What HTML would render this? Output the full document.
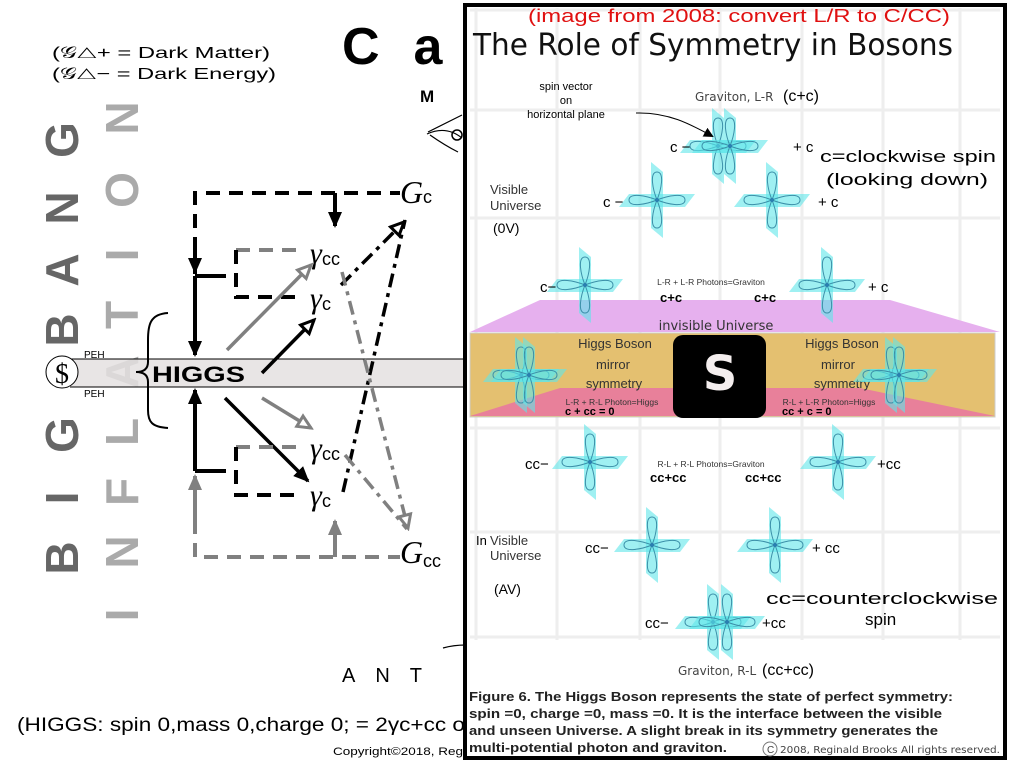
<!DOCTYPE html>
<html><head><meta charset="utf-8"><style>
html,body{margin:0;padding:0;background:#fff;width:1024px;height:768px;overflow:hidden}
svg{display:block}
text{font-family:"Liberation Sans",sans-serif}
</style></head><body>
<svg width="1024" height="768" viewBox="0 0 1024 768" xmlns="http://www.w3.org/2000/svg">
<defs>
<marker id="ab" markerWidth="10" markerHeight="10" refX="8" refY="5" orient="auto" markerUnits="userSpaceOnUse" viewBox="0 0 10 10"><path d="M0,0 L10,5 L0,10 z" fill="#000"/></marker>
<marker id="abig" markerWidth="16" markerHeight="16" refX="14" refY="8" orient="auto" markerUnits="userSpaceOnUse" viewBox="0 0 16 16"><path d="M0,1 L16,8 L0,15 z" fill="#000"/></marker>
<marker id="gbig" markerWidth="16" markerHeight="16" refX="14" refY="8" orient="auto" markerUnits="userSpaceOnUse" viewBox="0 0 16 16"><path d="M0,1 L16,8 L0,15 z" fill="#808080"/></marker>
<marker id="bo" markerWidth="18" markerHeight="18" refX="15" refY="9" orient="auto" markerUnits="userSpaceOnUse" viewBox="0 0 18 18"><path d="M2,3 L15,9 L2,15 z" fill="#fff" stroke="#000" stroke-width="3"/></marker>
<marker id="go" markerWidth="18" markerHeight="18" refX="15" refY="9" orient="auto" markerUnits="userSpaceOnUse" viewBox="0 0 18 18"><path d="M2,3 L15,9 L2,15 z" fill="#fff" stroke="#808080" stroke-width="3"/></marker>
<g id="cr">
<polygon points="-38,7 -28,-6 38,-6 28,7" fill="#5fe6ea" opacity="0.6"/>
<polygon points="-6,-38 6,-28 6,38 -6,28" fill="#5fe6ea" opacity="0.6"/>
<path d="M0,0 C-4,-10 -8,-28 0,-28 C8,-28 4,-10 0,0 M0,0 C10,-4 28,-8 28,0 C28,8 10,4 0,0 M0,0 C4,10 8,28 0,28 C-8,28 -4,10 0,0 M0,0 C-10,4 -28,8 -28,0 C-28,-8 -10,-4 0,0" fill="none" stroke="#3b8fa8" stroke-width="1"/>
<circle r="2" fill="#2a7fb0"/>
</g>
</defs>

<!-- LEFT PANEL -->
<text x="52" y="58" font-size="16" fill="#000" textLength="218" lengthAdjust="spacingAndGlyphs">(𝒢△+ = Dark Matter)</text>
<text x="52" y="79" font-size="16" fill="#000" textLength="224" lengthAdjust="spacingAndGlyphs">(𝒢△− = Dark Energy)</text>
<text x="342" y="64" font-size="52" font-weight="bold" fill="#000" letter-spacing="34">Ca</text>
<text x="420" y="102" font-size="17" font-weight="bold" fill="#000">M</text>
<path d="M428,132 L462,115 M427,134 C440,128 452,130 462,138 M430,135 C440,142 450,148 458,152" fill="none" stroke="#000" stroke-width="1.2"/>
<circle cx="457" cy="135" r="5" fill="none" stroke="#000" stroke-width="1.5"/>

<!-- vertical letters -->
<g font-size="46" font-weight="bold" fill="#666" text-anchor="middle">
<text transform="translate(78,140) rotate(-90)">G</text>
<text transform="translate(78,208) rotate(-90)">N</text>
<text transform="translate(78,270) rotate(-90)">A</text>
<text transform="translate(78,330) rotate(-90)">B</text>
<text transform="translate(78,435) rotate(-90)">G</text>
<text transform="translate(78,498) rotate(-90)">I</text>
<text transform="translate(78,558) rotate(-90)">B</text>
</g>
<g font-size="46" font-weight="bold" fill="#aaa" text-anchor="middle">
<text transform="translate(138,118) rotate(-90)">N</text>
<text transform="translate(138,190) rotate(-90)">O</text>
<text transform="translate(138,255) rotate(-90)">I</text>
<text transform="translate(138,315) rotate(-90)">T</text>
<text transform="translate(138,372) rotate(-90)">A</text>
<text transform="translate(138,432) rotate(-90)">L</text>
<text transform="translate(138,492) rotate(-90)">F</text>
<text transform="translate(138,552) rotate(-90)">N</text>
<text transform="translate(138,615) rotate(-90)">I</text>
</g>

<!-- gray band -->
<rect x="70" y="359" width="396" height="28" fill="#e4e1e1" opacity="0.85"/>
<line x1="70" y1="359" x2="466" y2="359" stroke="#000" stroke-width="1"/>
<line x1="70" y1="387" x2="466" y2="387" stroke="#000" stroke-width="1"/>
<circle cx="62" cy="372" r="16" fill="#fff" stroke="#000" stroke-width="1"/>
<text x="62" y="383" font-size="28" text-anchor="middle" fill="#000" style="font-family:'Liberation Serif',serif">$</text>
<text x="84" y="358" font-size="10" fill="#000">PEH</text>
<text x="84" y="397" font-size="10" fill="#000">PEH</text>
<path d="M168,313 C150,314 148,325 148,340 L148,362 C148,370 142,372 136,372 C142,372 148,374 148,382 L148,410 C148,422 152,427 168,428" fill="none" stroke="#000" stroke-width="2"/>
<text x="152" y="382" font-size="22" font-weight="bold" fill="#000" textLength="93" lengthAdjust="spacingAndGlyphs">HIGGS</text>

<!-- top structure -->
<g fill="none" stroke-width="4">
<path d="M195,274 L195,193 L400,193" stroke="#000" stroke-dasharray="14,9"/>
<line x1="195" y1="240" x2="195" y2="272" stroke="#000" marker-end="url(#abig)"/>
<line x1="195" y1="276" x2="195" y2="355" stroke="#000" marker-end="url(#abig)"/>
<line x1="195" y1="276" x2="226" y2="276" stroke="#000"/>
<line x1="335" y1="193" x2="335" y2="226" stroke="#000" marker-end="url(#abig)"/>
<line x1="236" y1="250" x2="300" y2="250" stroke="#808080" stroke-dasharray="14,9"/>
<path d="M236,250 L236,297 L300,297" stroke="#000" stroke-dasharray="14,9"/>
<line x1="227" y1="350" x2="311" y2="265" stroke="#808080" stroke-width="3.5" marker-end="url(#go)"/>
<line x1="262" y1="373" x2="314" y2="320" stroke="#000" stroke-width="3.5" marker-end="url(#bo)"/>
<line x1="341" y1="285" x2="404" y2="222" stroke="#000" stroke-width="3.5" stroke-dasharray="14,6,4,6" marker-end="url(#bo)"/>
<line x1="343" y1="492" x2="405" y2="220" stroke="#000" stroke-width="3.5" stroke-dasharray="14,6,4,6"/>
<line x1="342" y1="272" x2="408" y2="528" stroke="#808080" stroke-width="3.5" stroke-dasharray="14,6,4,6" marker-end="url(#go)"/>
<line x1="345" y1="455" x2="407" y2="529" stroke="#808080" stroke-width="3.5" stroke-dasharray="14,6,4,6"/>
<!-- bottom structure -->
<line x1="262" y1="398" x2="311" y2="428" stroke="#808080" stroke-width="3.5" marker-end="url(#go)"/>
<line x1="225" y1="398" x2="308" y2="481" stroke="#000" stroke-width="3.5" marker-end="url(#abig)"/>
<line x1="195" y1="471" x2="195" y2="390" stroke="#000" marker-end="url(#abig)"/>
<line x1="195" y1="471" x2="226" y2="471" stroke="#000"/>
<line x1="236" y1="447" x2="300" y2="447" stroke="#808080" stroke-dasharray="14,9"/>
<path d="M236,447 L236,495 L300,495" stroke="#000" stroke-dasharray="14,9"/>
<path d="M195,520 L195,557 L400,557" stroke="#808080" stroke-dasharray="14,9"/>
<line x1="195" y1="530" x2="195" y2="476" stroke="#808080" marker-end="url(#gbig)"/>
<line x1="335" y1="557" x2="335" y2="521" stroke="#808080" marker-end="url(#gbig)"/>
</g>
<g fill="#000">
<text x="400" y="203" font-size="32" font-style="italic" style="font-family:'Liberation Serif',serif">G</text><text x="423" y="203" font-size="18">c</text>
<text x="310" y="263" font-size="30" font-style="italic" style="font-family:'Liberation Serif',serif">γ</text><text x="322" y="265" font-size="18">cc</text>
<text x="310" y="308" font-size="30" font-style="italic" style="font-family:'Liberation Serif',serif">γ</text><text x="322" y="310" font-size="18">c</text>
<text x="310" y="458" font-size="30" font-style="italic" style="font-family:'Liberation Serif',serif">γ</text><text x="322" y="460" font-size="18">cc</text>
<text x="310" y="505" font-size="30" font-style="italic" style="font-family:'Liberation Serif',serif">γ</text><text x="322" y="507" font-size="18">c</text>
<text x="400" y="563" font-size="32" font-style="italic" style="font-family:'Liberation Serif',serif">G</text><text x="423" y="567" font-size="18">cc</text>
</g>
<text x="342" y="682" font-size="20" fill="#000" letter-spacing="20">ANT</text>
<path d="M443,648 C450,646 458,645 466,645" fill="none" stroke="#000" stroke-width="1.2"/>
<text x="17" y="731" font-size="19" fill="#000" textLength="448" lengthAdjust="spacingAndGlyphs">(HIGGS: spin 0,mass 0,charge 0; = 2γc+cc o</text>
<text x="333" y="755" font-size="11" fill="#000" textLength="130" lengthAdjust="spacingAndGlyphs">Copyright©2018, Reg</text>

<!-- RIGHT PANEL -->
<rect x="465" y="5" width="540" height="753" fill="#fff" stroke="#000" stroke-width="4"/>
<g stroke="#eeeeee" stroke-width="3">
<line x1="476" y1="8" x2="476" y2="640"/><line x1="557" y1="8" x2="557" y2="640"/><line x1="640" y1="8" x2="640" y2="640"/><line x1="720" y1="8" x2="720" y2="640"/><line x1="802" y1="8" x2="802" y2="640"/><line x1="883" y1="8" x2="883" y2="640"/><line x1="960" y1="8" x2="960" y2="640"/>
<line x1="470" y1="10" x2="1000" y2="10"/><line x1="470" y1="110" x2="1000" y2="110"/><line x1="470" y1="218" x2="1000" y2="218"/><line x1="470" y1="428" x2="1000" y2="428"/><line x1="470" y1="532" x2="1000" y2="532"/><line x1="470" y1="637" x2="1000" y2="637"/>
</g>
<text x="528" y="22" font-size="18" fill="#e01010" textLength="422" lengthAdjust="spacingAndGlyphs">(image from 2008: convert L/R to C/CC)</text>
<text x="473" y="55" font-size="30" fill="#111" style="font-family:'DejaVu Sans',sans-serif" textLength="480" lengthAdjust="spacingAndGlyphs">The Role of Symmetry in Bosons</text>

<!-- pink trapezoid + bands -->
<polygon points="540,300 890,300 1000,332 470,332" fill="#e6b0ee"/>
<text x="716" y="330" font-size="13" text-anchor="middle" fill="#333" style="font-family:'DejaVu Sans',sans-serif">invisible Universe</text>
<rect x="470" y="333" width="525" height="84" fill="#e4c070"/>
<polygon points="470,416 560,388 860,388 995,416" fill="#e8809a"/>
<rect x="470" y="333" width="525" height="84" fill="none" stroke="#ccc" stroke-width="1"/>
<rect x="673" y="335" width="93" height="83" rx="10" fill="#000"/>
<text x="720" y="390" font-size="48" font-weight="bold" text-anchor="middle" fill="#f4eeee" style="font-family:'DejaVu Sans',sans-serif">S</text>
<g font-size="13" fill="#333" text-anchor="middle" style="font-family:'DejaVu Sans',sans-serif">
<text x="615" y="348">Higgs Boson</text><text x="613" y="369">mirror</text><text x="614" y="388">symmetry</text>
<text x="842" y="348">Higgs Boson</text><text x="838" y="369">mirror</text><text x="842" y="388">symmetry</text>
</g>
<g font-size="8.5" fill="#333" text-anchor="middle" style="font-family:'DejaVu Sans',sans-serif">
<text x="612" y="405">L-R + R-L Photon=Higgs</text><text x="829" y="405">R-L + L-R Photon=Higgs</text>
<text x="711" y="285">L-R + L-R Photons=Graviton</text><text x="711" y="467">R-L + R-L Photons=Graviton</text>
</g>
<g font-size="11" font-weight="bold" fill="#000">
<text x="565" y="415">c + cc = 0</text><text x="782" y="415">cc + c = 0</text>
</g>

<!-- crosses -->
<use href="#cr" x="718" y="146"/><use href="#cr" x="730" y="146"/>
<use href="#cr" x="657" y="200"/><use href="#cr" x="772" y="200"/>
<use href="#cr" x="585" y="285"/><use href="#cr" x="827" y="285"/>
<use href="#cr" x="521" y="375"/><use href="#cr" x="529" y="375"/>
<use href="#cr" x="891" y="375"/><use href="#cr" x="899" y="375"/>
<use href="#cr" x="590" y="462"/><use href="#cr" x="838" y="462"/>
<use href="#cr" x="652" y="545"/><use href="#cr" x="775" y="545"/>
<use href="#cr" x="713" y="622"/><use href="#cr" x="727" y="622"/>

<!-- handwritten labels -->
<g fill="#000" font-size="15">
<text x="670" y="152">c −</text><text x="603" y="207">c −</text><text x="540" y="292">c−</text><text x="525" y="469">cc−</text><text x="585" y="553">cc−</text><text x="645" y="628">cc−</text>
<text x="793" y="152">+ c</text><text x="818" y="207">+ c</text><text x="868" y="292">+ c</text><text x="877" y="469">+cc</text><text x="812" y="553">+ cc</text><text x="762" y="628">+cc</text>
<text x="660" y="302" font-weight="bold" font-size="13">c+c</text><text x="754" y="302" font-weight="bold" font-size="13">c+c</text>
<text x="650" y="482" font-weight="bold" font-size="13">cc+cc</text><text x="745" y="482" font-weight="bold" font-size="13">cc+cc</text>
</g>
<g fill="#000" font-size="11" text-anchor="middle">
<text x="566" y="90">spin vector</text><text x="566" y="104">on</text><text x="566" y="118">horizontal plane</text>
</g>
<path d="M636,113 C668,112 690,124 712,136" fill="none" stroke="#000" stroke-width="1" marker-end="url(#ab)"/>
<text x="695" y="101" font-size="12" fill="#444" style="font-family:'DejaVu Sans',sans-serif">Graviton, L-R</text>
<text x="783" y="101" font-size="16" fill="#000">(c+c)</text>
<text x="820" y="162" font-size="17" fill="#000" textLength="176" lengthAdjust="spacingAndGlyphs">c=clockwise spin</text>
<text x="826" y="185" font-size="17" fill="#000" textLength="162" lengthAdjust="spacingAndGlyphs">(looking down)</text>
<g font-size="13" fill="#333" style="font-family:'DejaVu Sans',sans-serif">
<text x="490" y="194">Visible</text><text x="490" y="210">Universe</text>
<text x="490" y="545">Visible</text><text x="490" y="560">Universe</text>
</g>
<text x="476" y="545" font-size="13" fill="#000">In</text>
<text x="493" y="233" font-size="14" fill="#000">(0V)</text>
<text x="494" y="594" font-size="14" fill="#000">(AV)</text>
<text x="766" y="604" font-size="17" fill="#000" textLength="232" lengthAdjust="spacingAndGlyphs">cc=counterclockwise</text>
<text x="865" y="625" font-size="17" fill="#000">spin</text>
<text x="678" y="675" font-size="12" fill="#444" style="font-family:'DejaVu Sans',sans-serif">Graviton, R-L</text>
<text x="762" y="675" font-size="16" fill="#000">(cc+cc)</text>
<g font-size="13" font-weight="bold" fill="#222" style="font-family:'DejaVu Sans',sans-serif">
<text x="469" y="701" textLength="484" lengthAdjust="spacingAndGlyphs">Figure 6. The Higgs Boson represents the state of perfect symmetry:</text>
<text x="469" y="718" textLength="473" lengthAdjust="spacingAndGlyphs">spin =0, charge =0, mass =0. It is the interface between the visible</text>
<text x="469" y="735" textLength="469" lengthAdjust="spacingAndGlyphs">and unseen Universe. A slight break in its symmetry generates the</text>
<text x="469" y="752" textLength="258" lengthAdjust="spacingAndGlyphs">multi-potential photon and graviton.</text>
</g>
<circle cx="770" cy="749" r="7" fill="none" stroke="#777" stroke-width="1"/>
<text x="767" y="753" font-size="10" fill="#444">C</text>
<text x="780" y="753" font-size="10" fill="#444" style="font-family:'DejaVu Sans',sans-serif" textLength="220" lengthAdjust="spacingAndGlyphs">2008, Reginald Brooks  All rights reserved.</text>
</svg>
</body></html>
